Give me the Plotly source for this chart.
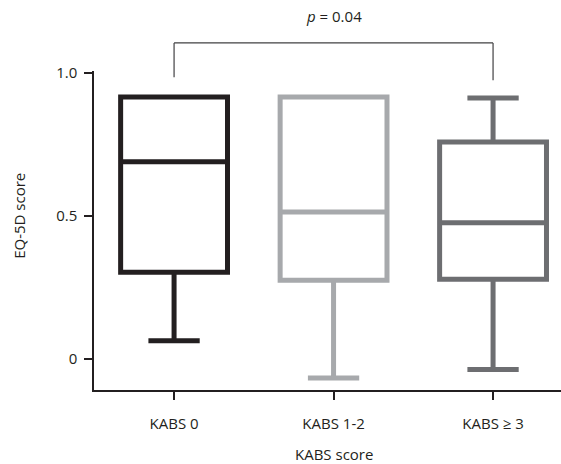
import plotly.graph_objects as go

categories = ["KABS 0", "KABS 1-2", "KABS \u2265 3"]
q1 = [0.304, 0.276, 0.279]
median = [0.690, 0.514, 0.477]
q3 = [0.916, 0.916, 0.759]
lower = [0.064, -0.066, -0.036]
upper = [0.916, 0.916, 0.913]
colors = ["#231f20", "#a7a9ac", "#6d6e71"]

y_ticks = [0, 0.5, 1.0]
y_tick_text = ["0", "0.5", "1.0"]
p_text = "<i>p</i> = 0.04"
bracket_top = 1.105
bracket_left_end = 0.985
bracket_right_end = 0.975

Y_RANGE = [-0.108, 1.007]
X_RANGE = [-0.502, 2.426]

def to_paper(v):
    return (v - Y_RANGE[0]) / (Y_RANGE[1] - Y_RANGE[0])

fig = go.Figure()
for i, cat in enumerate(categories):
    fig.add_trace(go.Box(
        x=[i], q1=[q1[i]], median=[median[i]], q3=[q3[i]],
        lowerfence=[lower[i]], upperfence=[upper[i]],
        width=0.67, whiskerwidth=0.48,
        line=dict(color=colors[i], width=5),
        fillcolor="white", boxpoints=False, showlegend=False,
        name=cat,
    ))

font = dict(family="Open Sans, Liberation Sans, sans-serif", size=15, color="#231f20")

fig.update_layout(
    width=561, height=464,
    margin=dict(l=94, r=0, t=71, b=74),
    plot_bgcolor="white", paper_bgcolor="white",
    font=font,
    xaxis=dict(
        range=X_RANGE, tickmode="array", tickvals=[0, 1, 2], ticktext=categories,
        showgrid=False, zeroline=False, showline=True, linecolor="#231f20", linewidth=1.5,
        ticks="outside", ticklen=8, tickwidth=1.5, tickcolor="#231f20",
        ticklabelstandoff=11,
    ),
    yaxis=dict(
        range=Y_RANGE, tickmode="array", tickvals=y_ticks, ticktext=y_tick_text,
        showgrid=False, zeroline=False, showline=True, linecolor="#231f20", linewidth=1.5,
        ticks="outside", ticklen=8, tickwidth=1.5, tickcolor="#231f20",
        ticklabelstandoff=4,
    ),
)

bc = "#414042"
fig.add_shape(type="line", xref="x", yref="paper", x0=0, x1=2,
              y0=to_paper(bracket_top), y1=to_paper(bracket_top), line=dict(color=bc, width=1.2))
fig.add_shape(type="line", xref="x", yref="paper", x0=0, x1=0,
              y0=to_paper(bracket_top), y1=to_paper(bracket_left_end), line=dict(color=bc, width=1.2))
fig.add_shape(type="line", xref="x", yref="paper", x0=2, x1=2,
              y0=to_paper(bracket_top), y1=to_paper(bracket_right_end), line=dict(color=bc, width=1.2))

fig.add_annotation(text=p_text, xref="x", yref="paper", x=1, y=to_paper(1.199),
                   showarrow=False, font=font, yanchor="middle")
fig.add_annotation(text="KABS score", xref="x", yref="paper", x=1, y=to_paper(-0.333),
                   showarrow=False, font=font, yanchor="middle")
fig.add_annotation(text="EQ-5D score", xref="paper", yref="paper", x=-0.161, y=to_paper(0.5),
                   showarrow=False, font=font, textangle=-90, xanchor="center", yanchor="middle")

fig.write_html("out.html", config={"displayModeBar": False},
               post_script="document.body.style.margin='0';document.body.style.overflow='hidden';")
